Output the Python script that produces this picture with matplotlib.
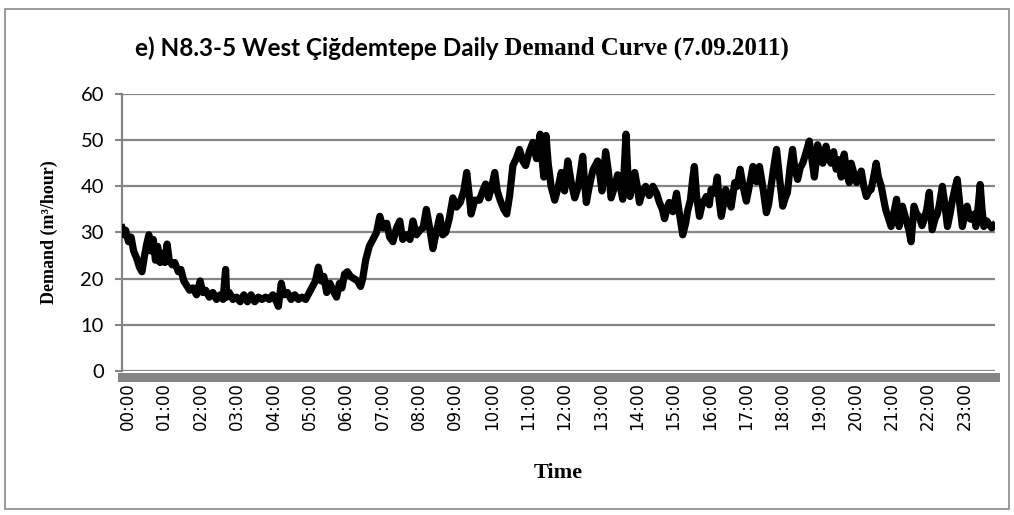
#!/usr/bin/env python3
"""Daily demand curve, West Cigdemtepe N8.3-5 (7.09.2011)."""
import matplotlib
matplotlib.use("Agg")
import matplotlib.pyplot as plt
import matplotlib.transforms as mtransforms
from matplotlib.patches import Rectangle

# time of reading (hours after midnight) and demand (m3/hour)
hours = [
    0.00, 0.05, 0.10, 0.18, 0.25, 0.32, 0.40, 0.48, 0.55, 0.62, 0.68, 0.74, 0.80, 0.86, 0.92, 0.98,
    1.05, 1.12, 1.18, 1.24, 1.30, 1.38, 1.45, 1.55, 1.62, 1.70, 1.78, 1.86, 1.95,
    2.05, 2.15, 2.22, 2.30, 2.40, 2.50, 2.60, 2.70, 2.78, 2.85, 2.88, 2.95,
    3.05, 3.15, 3.25, 3.35, 3.45, 3.55, 3.65, 3.75, 3.85, 3.95,
    4.05, 4.15, 4.25, 4.30, 4.38, 4.45, 4.55, 4.65, 4.75, 4.85, 4.95,
    5.05, 5.15, 5.25, 5.32, 5.40, 5.48, 5.55, 5.63, 5.72, 5.80, 5.90, 5.98,
    6.05, 6.12, 6.20, 6.28, 6.38, 6.48, 6.56, 6.62, 6.70, 6.80, 6.90,
    7.00, 7.09, 7.18, 7.28, 7.36, 7.45, 7.55, 7.64, 7.72, 7.82, 7.92,
    8.00, 8.10, 8.19, 8.28, 8.37, 8.46, 8.55, 8.64, 8.74, 8.82, 8.90,
    9.00, 9.10, 9.20, 9.30, 9.40, 9.48, 9.55, 9.60, 9.70, 9.83, 9.92,
    10.00, 10.08, 10.17, 10.25, 10.32, 10.40, 10.50, 10.58, 10.66, 10.75, 10.84, 10.93,
    11.02, 11.10, 11.20, 11.30, 11.40, 11.50, 11.55, 11.60, 11.66, 11.72, 11.80, 11.90,
    12.00, 12.08, 12.17, 12.26, 12.35, 12.45, 12.55, 12.67, 12.72, 12.77, 12.85, 12.95,
    13.08, 13.15, 13.20, 13.30, 13.38, 13.45, 13.55, 13.63, 13.70, 13.77, 13.86, 13.92, 13.97,
    14.05, 14.10, 14.17, 14.23, 14.32, 14.40, 14.50, 14.60, 14.70, 14.78, 14.86, 14.92,
    15.00, 15.05, 15.15, 15.25, 15.33, 15.42, 15.50, 15.55, 15.63, 15.70, 15.74, 15.80, 15.88, 15.95,
    16.07, 16.15, 16.20, 16.30, 16.37, 16.42, 16.48, 16.55, 16.60, 16.68, 16.75, 16.85, 16.92,
    17.00, 17.08, 17.17, 17.25, 17.35, 17.45, 17.53, 17.62, 17.72, 17.78, 17.85, 17.92,
    18.00, 18.08, 18.17, 18.24, 18.30, 18.37, 18.44, 18.50, 18.58, 18.65, 18.72, 18.80, 18.90, 18.97,
    19.04, 19.10, 19.13, 19.20, 19.27, 19.36, 19.43, 19.50, 19.57, 19.64, 19.70, 19.78, 19.86, 19.93,
    20.00, 20.05, 20.12, 20.20, 20.27, 20.33, 20.40, 20.47, 20.54, 20.60, 20.67, 20.74, 20.80, 20.88, 20.95,
    21.00, 21.08, 21.15, 21.22, 21.30, 21.37, 21.46, 21.52, 21.56, 21.64, 21.70, 21.78, 21.85, 21.92,
    22.00, 22.06, 22.13, 22.20, 22.28, 22.36, 22.42, 22.47, 22.56, 22.63, 22.70, 22.77, 22.84, 22.92, 22.97,
    23.04, 23.11, 23.18, 23.24, 23.31, 23.38, 23.44, 23.48, 23.55, 23.60, 23.65, 23.70, 23.78, 23.85, 23.92, 23.97,
]
demand = [
    31, 29.5, 30.5, 28, 29, 26, 24.5, 22.5, 21.5, 25, 27.5, 29.5, 26, 28.5, 24, 27,
    23.5, 25.5, 23.5, 27.5, 24, 23, 23.5, 21.5, 22, 19.5, 18.5, 17.5, 18,
    16.5, 19.5, 17, 17.5, 16, 17, 15.5, 16.5, 15.5, 22, 16, 17,
    15.5, 16, 15, 16.5, 15, 16.5, 15, 16, 15.5, 16,
    15.5, 16.5, 15, 14, 19, 16.5, 17, 15.5, 16.5, 15.5, 16,
    15.5, 17, 18.5, 19.5, 22.5, 19.5, 20.5, 17, 19, 17.5, 16, 19,
    18, 21, 21.5, 20.5, 20, 19.5, 18.3, 20, 24, 27, 28.5,
    30, 33.5, 31, 32, 29, 28, 31, 32.5, 28.5, 29.5, 28.5,
    32.5, 29.5, 30.5, 31, 35, 31, 26.5, 30, 33.5, 29.5, 30,
    33, 37.5, 35.5, 36.5, 39, 43, 38, 34, 37, 37, 39,
    40.5, 37.5, 40, 43, 39, 37, 35, 34, 38, 44.5, 46, 48,
    45.5, 44.5, 47.5, 49.5, 46, 51.3, 46, 42, 51, 45, 40, 37,
    40, 43, 39, 45.5, 41, 37.5, 40, 46.5, 41, 36.5, 40, 43.5,
    45.5, 42, 39, 47.5, 43, 37.5, 40, 42.5, 40, 37.2, 51.3, 41, 37.8,
    41, 43, 40, 36.5, 39, 40, 38, 40, 38.5, 36.5, 35, 33,
    35.5, 36.5, 34.5, 38.5, 34, 29.5, 32, 34.5, 37, 42, 44.3, 38, 33.5, 36,
    37.8, 36, 39.3, 38.5, 42, 37, 33.5, 36.5, 39.3, 37.5, 35.5, 40.8, 40,
    43.7, 40, 36.8, 40, 44.3, 41, 44.3, 40, 34.3, 36, 40, 44,
    48, 42, 35.7, 37.5, 38.7, 44, 48, 44, 41.5, 44, 45, 47, 49.8, 46,
    42, 46, 49, 46.5, 45, 48.7, 46, 45, 47.5, 43.7, 45.8, 42, 47, 43,
    40.8, 45, 43, 40.8, 42, 43.3, 40, 37.8, 39, 39.3, 42, 45, 42, 40, 37,
    35, 33, 31.3, 34, 37.2, 31.3, 35.7, 34, 32.8, 30.5, 28, 35.7, 34, 33.5,
    31.5, 32.8, 35, 38.7, 30.6, 33, 34, 35.7, 40, 36, 31.3, 34, 37.2, 40, 41.5,
    36, 31.3, 34, 35.7, 33, 32.8, 34, 31.3, 36, 40.4, 35, 31.3, 32.5, 31.7, 31, 31.5,
]
tick_hours = list(range(24))
tick_labels = [f"{h:02d}:00" for h in tick_hours]
y_ticks = [0, 10, 20, 30, 40, 50, 60]

GRAY = "#858585"

fig = plt.figure(figsize=(10.14, 5.15), dpi=100)
ax = fig.add_axes([0.1203, 0.2796, 0.8607, 0.5379])

# spines first: moving a spine resets the ticks
for side in ("top", "right"):
    ax.spines[side].set_visible(False)
ax.spines["left"].set_color(GRAY)
ax.spines["left"].set_linewidth(1.6)
ax.spines["bottom"].set_position(("outward", 4))
ax.spines["bottom"].set_color(GRAY)
ax.spines["bottom"].set_linewidth(6.5)

ax.plot(hours, demand, color="black", lw=5.2, solid_joinstyle="round", zorder=3)

ax.set_xlim(0, 24)
ax.set_ylim(0, 60)
ax.set_yticks(y_ticks)
ax.set_yticklabels([str(v) for v in y_ticks], family="Lato", fontsize=14.5)
ax.set_xticks(tick_hours)
ax.set_xticklabels(tick_labels, family="DejaVu Sans", fontsize=12, rotation=90)
ax.tick_params(axis="x", length=0, pad=4)
ax.tick_params(axis="y", length=5, width=1.5, color=GRAY, pad=8)
shift = mtransforms.ScaledTranslation(6 / 100, 0, fig.dpi_scale_trans)
for lab in ax.get_xticklabels():
    lab.set_transform(lab.get_transform() + shift)
ax.grid(axis="y", color=GRAY, lw=1.6)
ax.set_axisbelow(True)

ax.set_ylabel("Demand (m³/hour)", family="Liberation Serif", fontweight="bold",
              fontsize=13, labelpad=16)
ax.set_xlabel("Time", family="Liberation Serif", fontweight="bold", fontsize=16, labelpad=24)

# title in two fonts, as in the source
t1 = fig.text(0.133, 0.884, "e) N8.3-5 West Çiğdemtepe Daily", family="Lato",
              fontweight="bold", fontsize=17.5, va="bottom", ha="left")
ax.annotate(" Demand Curve (7.09.2011)", xy=(1, 0), xycoords=t1, va="bottom", ha="left",
            family="Liberation Serif", fontweight="bold", fontsize=18, annotation_clip=False)

# outer chart frame
fig.patches.append(Rectangle((5 / 1014, 6 / 515), 1004 / 1014, 500 / 515,
                             transform=fig.transFigure, fill=False,
                             edgecolor="#8a8a8a", lw=1.2))

fig.savefig("out.png", dpi=100)
